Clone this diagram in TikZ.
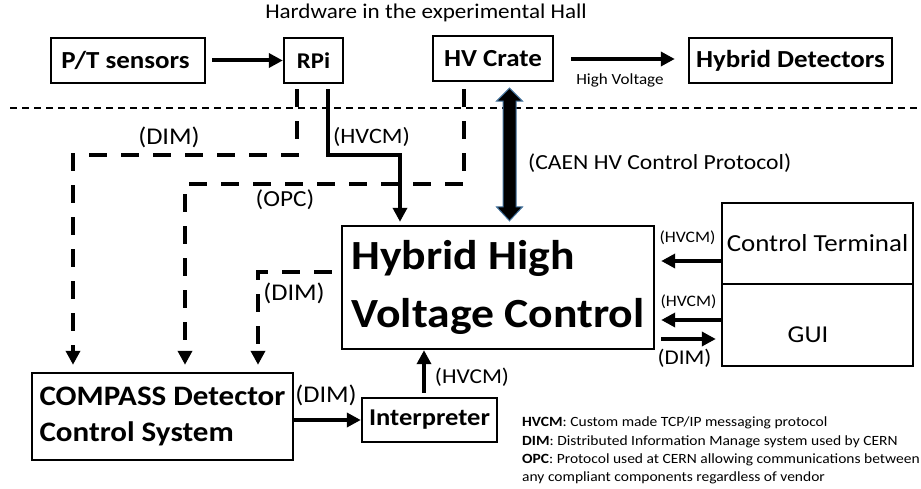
\documentclass[tikz,border=0pt]{standalone}
\usepackage{fontspec}
\setmainfont[FakeStretch=1.1]{Carlito}
\usetikzlibrary{arrows.meta,calc}
\definecolor{caenblue}{HTML}{41719C}
\newcommand{\fs}[1]{\fontsize{#1}{#1}\selectfont}
\begin{document}
\begin{tikzpicture}[x=1pt,y=-1pt,
  box/.style={draw, line width=2.4pt, inner sep=0pt, font=\bfseries\fs{24.5}},
  arr/.style={line width=4pt, -{Triangle[length=14pt,width=14pt]}},
  dasharr/.style={line width=4pt, dash pattern=on 18pt off 14pt, -{Triangle[length=14pt,width=14pt]}},
  lab/.style={inner sep=0pt, font=\fs{23}},
  dimlab/.style={inner sep=0pt, font=\fs{24}},
  hvlab/.style={inner sep=0pt, font=\fs{22}},
  small/.style={inner sep=0pt, font=\fs{16}}]
\useasboundingbox (0,0) rectangle (921,489);

% separator
\draw[line width=1.2pt, dash pattern=on 7pt off 5pt] (10,108) -- (921,108);
\node[inner sep=0pt, font=\fs{21}] (title) at (426,13) {Hardware in the experimental Hall};

% boxes
\node[box, minimum width=154pt, minimum height=45pt] (pt) at (128,60.5) {P/T sensors\hspace*{5pt}};
\node[box, minimum width=59pt, minimum height=45pt, font=\bfseries\fs{22.5}] (rpi) at (313.5,60.5) {RPi};
\node[box, minimum width=120pt, minimum height=45pt] (hv) at (493,58.5) {HV Crate};
\node[box, minimum width=203pt, minimum height=45pt] (det) at (790.5,60.5) {Hybrid Detectors};
\node[box, minimum width=312pt, minimum height=123pt, align=flush left, font=\bfseries\fontsize{41.5}{58}\selectfont] (hhv) at (498,287.5) {Hybrid High\\Voltage Control};
\node[box, minimum width=261pt, minimum height=87pt, align=flush left, font=\bfseries\fontsize{28.2}{36}\selectfont] (compass) at (162.5,416.5) {COMPASS Detector\\Control System};
\node[box, minimum width=135pt, minimum height=44pt, font=\bfseries\fs{24.1}] (interp) at (429.5,420) {Interpreter};
\node[box, minimum width=191pt, minimum height=81pt, font=\fs{24.5}] (ct) at (817.5,243.5) {Control Terminal};
\node[box, minimum width=191pt, minimum height=82pt] (gui) at (817.5,325) {};
\node[inner sep=0pt, font=\fs{24.2}] (guit) at (808,335) {GUI};

% CAEN double arrow
\coordinate (ctop) at ($(hv.south)+(16.5,6)$);
\coordinate (cbot) at ($(ctop |- hhv.north)+(0,-4)$);
\draw[fill=black, draw=caenblue, line width=1pt]
  (ctop) -- ($(ctop)+(13,13)$) -- ($(ctop)+(6.5,13)$) -- ($(cbot)+(6.5,-14)$) -- ($(cbot)+(13,-14)$)
  -- (cbot) -- ($(cbot)+(-13,-14)$) -- ($(cbot)+(-6.5,-14)$) -- ($(ctop)+(-6.5,13)$) -- ($(ctop)+(-13,13)$) -- cycle;
\node[inner sep=0pt, font=\fs{21.5}, anchor=west] (caen) at (528,163) {(CAEN HV Control Protocol)};

% top arrows
\draw[arr] ([xshift=6pt]pt.east) -- (rpi.west);
\draw[arr] ([xshift=17pt,yshift=-0.5pt]hv.east) -- ([xshift=-13pt,yshift=1.5pt]det.west);
\node[small, font=\fs{15.5}] (hvl) at (620,80) {High Voltage};

% RPi DIM dashed
\coordinate (d1) at (73,155);
\draw[dasharr, shorten >=7pt] ([xshift=-16.5pt,yshift=-5pt]rpi.south) |- (d1) -- (d1 |- compass.north);
\node[dimlab] (diml1) at (169,137) {(DIM)};

% RPi HVCM solid
\coordinate (h1) at (400,155);
\draw[arr, shorten >=3pt] ([xshift=14.5pt,yshift=-5pt]rpi.south) |- (h1) -- (h1 |- hhv.north);
\node[hvlab] (hvcml1) at (371.5,137) {(HVCM)};

% OPC dashed
\coordinate (o1) at (185,184);
\draw[dasharr, shorten >=7pt] ([xshift=-29pt,yshift=-7pt]hv.south) |- (o1) -- (o1 |- compass.north);
\node[lab] (opcl) at (285,200) {(OPC)};

% HHV DIM dashed
\coordinate (m1) at (258,272);
\draw[dasharr, shorten >=7pt] ([xshift=-9pt]m1 -| hhv.west) -- (m1) -- (m1 |- compass.north);
\node[dimlab] (diml2) at (294,293) {(DIM)};

% compass -> interpreter
\draw[arr] (compass.east |- interp.west) -- (interp.west);
\node[dimlab] (diml3) at (326,395) {(DIM)};

% interpreter -> hhv
\draw[arr] ([xshift=-5.5pt,yshift=4pt]interp.north) -- ([xshift=-5.5pt]interp.north |- hhv.south);
\node[hvlab, font=\fs{21.2}] (hvcml2) at (472,377) {(HVCM)};

% control terminal / gui arrows
\draw[arr, shorten >=6pt] ([yshift=-17.5pt]ct.west) -- ([yshift=-17.5pt]ct.west -| hhv.east);
\node[small] (hvcml3) at (687.5,238) {(HVCM)};
\draw[arr, shorten >=6pt] ([yshift=5pt]gui.west) -- ([yshift=5pt]gui.west -| hhv.east);
\node[small] (hvcml4) at (688.5,302) {(HVCM)};
\draw[arr, shorten <=6pt, shorten >=5pt] ([yshift=-14pt]gui.west -| hhv.east) -- ([yshift=-14pt]gui.west);
\node[inner sep=0pt, font=\fs{21}] (diml4) at (684.5,358) {(DIM)};

% legend
\node[anchor=north west, inner sep=0pt, align=flush left, font=\fontsize{14.1}{18.3}\selectfont] (legend) at (522,417)
 {\textbf{HVCM}: Custom made TCP/IP messaging protocol\\
  \textbf{DIM}: Distributed Information Manage system used by CERN\\
  \textbf{OPC}: Protocol used at CERN allowing communications between\\
  any compliant components regardless of vendor};
\end{tikzpicture}
\end{document}
